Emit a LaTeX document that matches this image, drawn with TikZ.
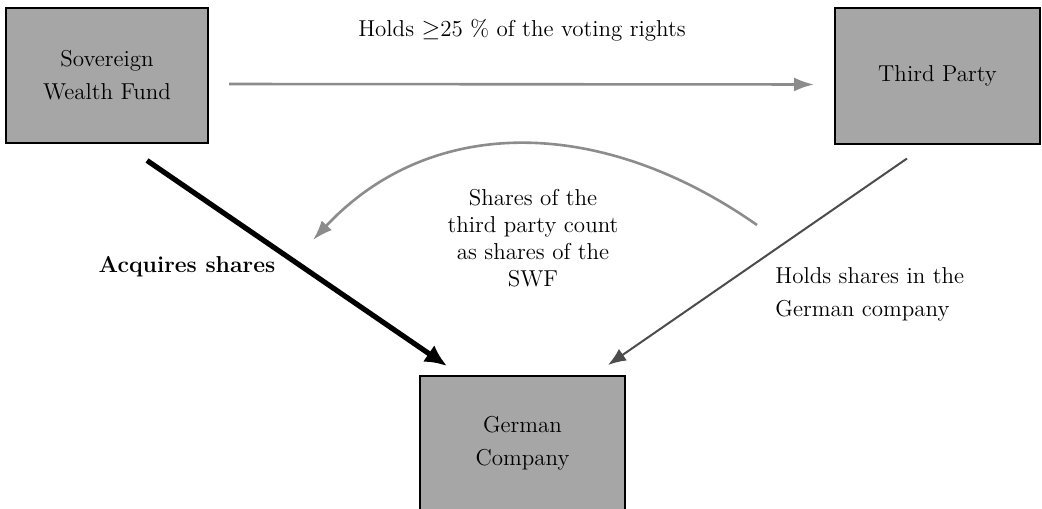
\documentclass[tikz,border=0pt]{standalone}
\usetikzlibrary{arrows.meta,calc}
\begin{document}
\begin{tikzpicture}[x=0.5pt,y=-0.5pt,
  txt/.style={font=\fontsize{11.5}{14}\selectfont},
  box/.style={font=\fontsize{11.5}{16.5}\selectfont, draw=black, line width=1pt, fill=gray!70, minimum width=101pt,
    minimum height=67.5pt, inner sep=0pt, align=center},
  lbl/.style={font=\fontsize{11.5}{13.5}\selectfont, align=center, inner sep=0pt},
  lbll/.style={font=\fontsize{11.5}{16.5}\selectfont, align=left, inner sep=0pt},
  grayarrow/.style={draw=black!45, line width=1.3pt, -{Latex[length=10pt,width=7pt]}},
  thinarrow/.style={draw=black!70, line width=1pt, -{Latex[length=9pt,width=7pt]}},
  thickarrow/.style={draw=black, line width=2.6pt, -{Latex[length=11pt,width=10pt]}}]
\clip (0,0) rectangle (1042,508);
\node[box] (swf) at (107,75.5) {Sovereign\\Wealth Fund};
\node[box, minimum width=102.5pt] (tp) at (937.5,76) {Third Party};
\node[box, minimum width=102.5pt] (gc) at (522.5,443.5) {German\\Company};

\node[lbl] (lvote) at (522,30) {Holds $\geq$25 \% of the voting rights};
\node[lbl, font=\fontsize{11.5}{14}\selectfont\bfseries] (lacq) at (187,267) {Acquires shares};
\node[lbll, anchor=west] (lhold) at (775,294.5) {Holds shares in the\\German company};
\node[lbl] (lcount) at (533,238) {Shares of the\\third party count\\as shares of the\\SWF};

\coordinate (cs) at (757,225);
\coordinate (ce) at (313,240);

\draw[grayarrow, shorten <=10pt, shorten >=10pt]
  ([yshift=-4.25pt]swf.east) -- ([yshift=-4.25pt]tp.west);
\draw[thickarrow] ($(swf.south)+(40,16.5)$) -- ($(gc.north)+(-75.5,-9)$);
\draw[thinarrow] ($(tp.south)+(-30.5,14)$) -- ($(gc.north)+(85.5,-10)$);
\draw[grayarrow] (cs) .. controls (600,115) and (430,115) .. (ce);
\end{tikzpicture}
\end{document}
